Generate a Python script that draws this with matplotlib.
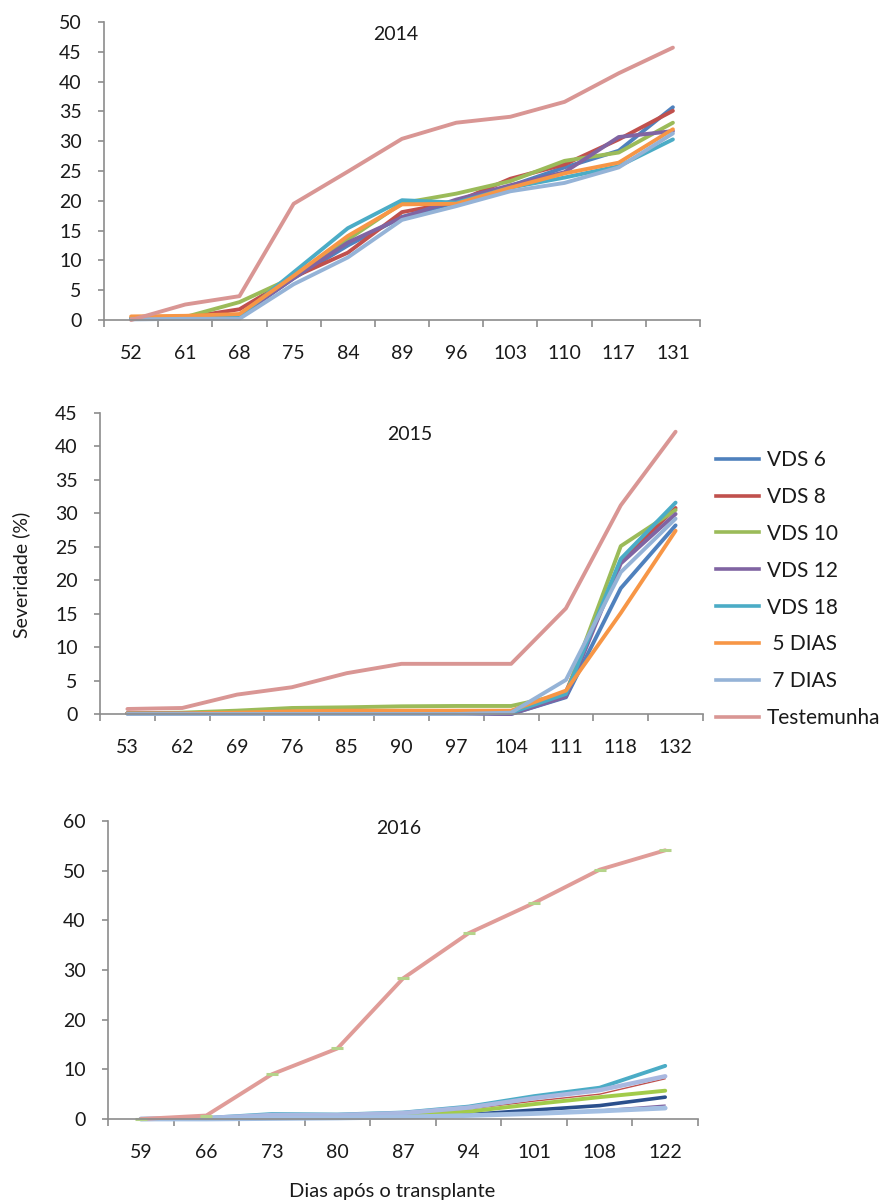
import matplotlib
matplotlib.use("Agg")
import matplotlib.pyplot as plt
from matplotlib.lines import Line2D
import numpy as np

plt.rcParams['font.family'] = ['Lato', 'DejaVu Sans']

series_names = ["VDS 6", "VDS 8", "VDS 10", "VDS 12", "VDS 18", "5 DIAS", "7 DIAS", "Testemunha"]
legend_labels = ["VDS 6", "VDS 8", "VDS 10", "VDS 12", "VDS 18", " 5 DIAS", " 7 DIAS", "Testemunha"]

days_2014 = ["52", "61", "68", "75", "84", "89", "96", "103", "110", "117", "131"]
vds6_2014 = [0.2, 0.4, 0.7, 7.0, 12.5, 17.3, 19.7, 22.5, 25.6, 28.4, 35.7]
vds8_2014 = [0.2, 0.4, 1.8, 7.2, 11.3, 18.1, 19.8, 23.7, 26.1, 30.3, 35.1]
vds10_2014 = [0.2, 0.5, 3.0, 7.2, 13.5, 19.6, 21.2, 23.3, 26.7, 28.1, 33.1]
vds12_2014 = [0.2, 0.4, 0.7, 7.0, 13.0, 17.2, 20.2, 22.6, 24.8, 30.7, 31.7]
vds18_2014 = [0.2, 0.4, 0.6, 8.0, 15.4, 20.1, 19.7, 22.2, 23.9, 25.8, 30.3]
dias5_2014 = [0.6, 0.7, 1.0, 7.4, 14.1, 19.4, 19.5, 22.2, 24.6, 26.4, 32.0]
dias7_2014 = [0.1, 0.2, 0.2, 6.0, 10.5, 16.8, 19.1, 21.6, 23.0, 25.6, 31.3]
test_2014 = [0.0, 2.6, 4.0, 19.5, 24.9, 30.4, 33.1, 34.1, 36.6, 41.4, 45.7]

days_2015 = ["53", "62", "69", "76", "85", "90", "97", "104", "111", "118", "132"]
vds6_2015 = [0.1, 0.1, 0.1, 0.1, 0.1, 0.1, 0.1, 0.0, 2.5, 18.8, 28.2]
vds8_2015 = [0.1, 0.1, 0.1, 0.2, 0.2, 0.2, 0.2, 0.2, 3.3, 22.8, 30.8]
vds10_2015 = [0.1, 0.2, 0.5, 0.9, 1.0, 1.15, 1.2, 1.2, 3.0, 25.1, 30.5]
vds12_2015 = [0.1, 0.1, 0.1, 0.1, 0.1, 0.1, 0.1, 0.0, 2.6, 22.5, 29.9]
vds18_2015 = [0.1, 0.1, 0.1, 0.1, 0.1, 0.2, 0.2, 0.2, 3.0, 23.2, 31.6]
dias5_2015 = [0.1, 0.1, 0.2, 0.4, 0.5, 0.5, 0.5, 0.5, 3.5, 15.1, 27.4]
dias7_2015 = [0.0, 0.0, 0.0, 0.0, 0.0, 0.0, 0.0, 0.2, 5.1, 21.2, 29.2]
test_2015 = [0.75, 0.9, 2.9, 4.0, 6.1, 7.5, 7.5, 7.5, 15.8, 31.2, 42.2]

days_2016 = ["59", "66", "73", "80", "87", "94", "101", "108", "122"]
vds6_2016 = [0.0, 0.0, 0.2, 0.3, 0.5, 0.9, 1.8, 2.7, 4.4]
vds8_2016 = [0.0, 0.1, 0.4, 0.5, 0.9, 2.0, 3.6, 5.0, 8.1]
vds10_2016 = [0.0, 0.0, 0.2, 0.3, 0.6, 1.5, 3.0, 4.4, 5.7]
vds12_2016 = [0.0, 0.0, 0.1, 0.2, 0.3, 0.6, 1.2, 1.8, 2.8]
vds18_2016 = [0.0, 0.2, 1.0, 0.9, 1.3, 2.5, 4.6, 6.3, 10.7]
dias5_2016 = [0.0, 0.2, 0.8, 0.8, 1.2, 2.3, 4.2, 5.8, 8.6]
dias7_2016 = [0.0, 0.0, 0.1, 0.2, 0.4, 0.7, 1.1, 1.6, 2.2]
test_2016 = [0.0, 0.7, 9.0, 14.2, 28.3, 37.4, 43.5, 50.2, 54.1]

colors = ["#4F81BD", "#C0504D", "#9BBB59", "#8064A2", "#4BACC6", "#F79646", "#95B3D7", "#D99694"]
colors_2016 = ["#2A4F8C", "#C0504D", "#A2CB4A", "#8064A2", "#4BACC6", "#A9B8E0", "#A3BFE3", "#E09C98"]
widths = [2.8] * 8
widths_2016 = [2.6, 1.0, 2.8, 1.0, 2.8, 3.2, 3.4, 2.8]

fig = plt.figure(figsize=(8.8, 12.03), dpi=100)
W, H = 880, 1203

def add_axes(l, r, t, b):
    return fig.add_axes([l / W, 1 - b / H, (r - l) / W, (b - t) / H])

axis_col = "#8C8C8C"
txt_col = "#1A1A1A"

def style(ax, cats, ymax, ystep):
    n = len(cats)
    ax.set_xlim(-0.5, n - 0.5)
    ax.set_ylim(0, ymax)
    ax.set_xticks(np.arange(n))
    ax.set_xticklabels(cats)
    ax.set_xticks(np.arange(n + 1) - 0.5, minor=True)
    ax.set_yticks(np.arange(0, ymax + 0.1, ystep))
    for s in ["top", "right"]:
        ax.spines[s].set_visible(False)
    for s in ["left", "bottom"]:
        ax.spines[s].set_color(axis_col)
        ax.spines[s].set_linewidth(1.2)
    ax.tick_params(axis="x", which="major", length=0, pad=18, labelsize=14, colors=txt_col)
    ax.tick_params(axis="x", which="minor", length=5, width=1.2, color=axis_col, direction="out")
    ax.tick_params(axis="y", which="major", length=4, width=1.2, color=axis_col, pad=12,
                   labelsize=14, labelcolor=txt_col)
    ax.set_facecolor("none")

panels = [
    (days_2014, [vds6_2014, vds8_2014, vds10_2014, vds12_2014, vds18_2014, dias5_2014, dias7_2014, test_2014],
     (104, 700, 22, 320), 50, 5, "2014", (396, 35), colors, widths),
    (days_2015, [vds6_2015, vds8_2015, vds10_2015, vds12_2015, vds18_2015, dias5_2015, dias7_2015, test_2015],
     (100, 703, 413, 714), 45, 5, "2015", (410, 434), colors, widths),
    (days_2016, [vds6_2016, vds8_2016, vds10_2016, vds12_2016, vds18_2016, dias5_2016, dias7_2016, test_2016],
     (108, 698, 821, 1119), 60, 10, "2016", (399, 829), colors_2016, widths_2016),
]

for i, (cats, data, box, ymax, ystep, title, tpos, cols, lws) in enumerate(panels):
    ax = add_axes(*box)
    style(ax, cats, ymax, ystep)
    x = np.arange(len(cats))
    for j, (name, vals) in enumerate(zip(series_names, data)):
        kw = {}
        if i == 2 and name == "Testemunha":
            kw = dict(marker="_", markersize=9, markeredgewidth=2.2, markeredgecolor="#B5D38A")
        ax.plot(x, vals, color=cols[j], lw=lws[j], solid_joinstyle="round",
                solid_capstyle="round", clip_on=False, **kw)
    fig.text(tpos[0] / W, 1 - tpos[1] / H, title, ha="center", va="center",
             fontsize=14, color=txt_col)

leg_handles = [Line2D([], [], color=c, lw=2.6) for c in colors]
fig.legend(leg_handles, legend_labels, loc="upper left", bbox_to_anchor=(716 / W, 1 - 450 / H),
           frameon=False, fontsize=15, handlelength=2.05, handletextpad=0.38,
           labelspacing=0.81, borderpad=0, borderaxespad=0, labelcolor=txt_col)

fig.text(21 / W, 1 - 575 / H, "Severidade (%)", rotation=90, ha="center", va="center",
         fontsize=14, color=txt_col)
fig.text(392 / W, 1 - 1192 / H, "Dias após o transplante", ha="center", va="center",
         fontsize=14.5, color=txt_col)

fig.savefig("out.png", dpi=100, facecolor="white")
